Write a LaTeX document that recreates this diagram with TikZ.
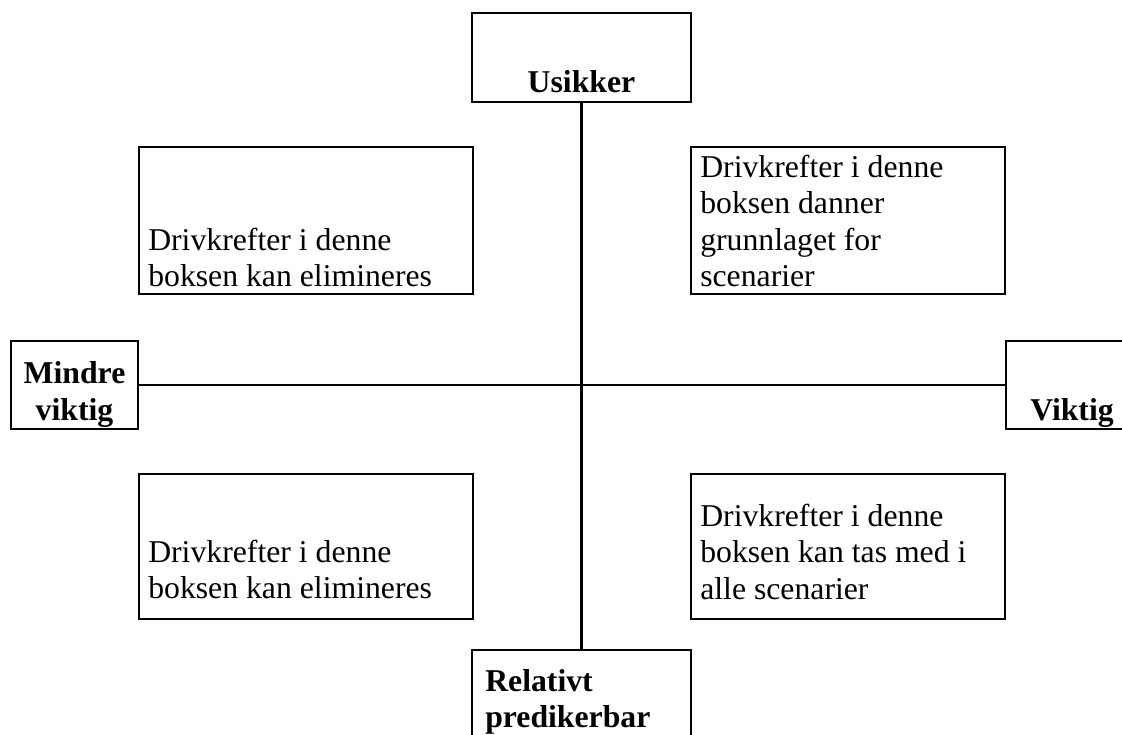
\documentclass[tikz,border=0pt]{standalone}
\usepackage{fontspec}
\setmainfont{Liberation Serif}
\usetikzlibrary{fit}
\tikzset{
  box/.style={draw, line width=1.6pt, inner sep=0pt},
  axis/.style={line width=1.6pt},
  txt/.style={inner sep=0pt, anchor=base west, font=\fontsize{23.8pt}{27.4pt}\selectfont},
  bold/.style={txt, font=\fontsize{23.8pt}{27.4pt}\selectfont\bfseries},
}
\newcommand{\lines}[1]{\parbox[t]{320pt}{#1}}
\begin{document}
\begin{tikzpicture}[x=0.75pt, y=-0.75pt]
  \clip (0,0) rectangle (1122,735);
  \fill[white] (0,0) rectangle (1122,735);

  % axis end boxes
  \node[box, fit={(472,13) (691,102)}] (top) {};
  \node[box, fit={(472,650) (691,770)}] (bottom) {};
  \node[box, fit={(11,341) (138,429)}] (left) {};
  \node[box, fit={(1006,341) (1140,429)}] (right) {};

  % quadrant boxes
  \node[box, fit={(139,147) (473,294)}] (q2) {};
  \node[box, fit={(691,147) (1005,294)}] (q1) {};
  \node[box, fit={(139,474) (473,619)}] (q3) {};
  \node[box, fit={(691,474) (1005,619)}] (q4) {};

  % axes
  \draw[axis] (top.south) -- (bottom.north);
  \draw[axis] (left.east) -- (right.west);

  % axis labels
  \node[bold, anchor=base] (tUsikker) at (581.5,93) {Usikker};
  \node[bold, anchor=base] (tMindre) at (74.5,383.5) {Mindre};
  \node[bold, anchor=base] (tViktig1) at (74.5,420) {viktig};
  \node[bold] (tViktig) at (1030,420) {Viktig};
  \node[bold] (tRelativt) at (485,691) {\lines{Relativt\\predikerbar}};

  % quadrant texts
  \node[txt] (t2) at (148,250) {\lines{Drivkrefter i denne\\boksen kan elimineres}};
  \node[txt] (t1) at (700,177) {\lines{Drivkrefter i denne\\boksen danner\\grunnlaget for\\scenarier}};
  \node[txt] (t3) at (148,562) {\lines{Drivkrefter i denne\\boksen kan elimineres}};
  \node[txt] (t4) at (700,526) {\lines{Drivkrefter i denne\\boksen kan tas med i\\alle scenarier}};
\end{tikzpicture}
\end{document}
